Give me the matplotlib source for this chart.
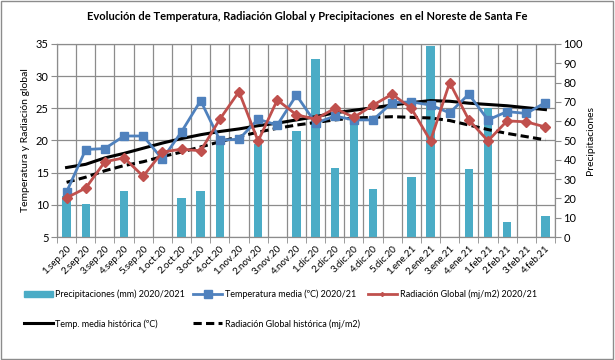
import matplotlib
matplotlib.use("Agg")
import matplotlib.pyplot as plt
import numpy as np
from matplotlib.patches import Rectangle
from matplotlib.lines import Line2D

plt.rcParams['font.family'] = ['Lato', 'DejaVu Sans']

categories = ['1.sep.20', '2.sep.20', '3.sep.20', '4.sep.20', '5.sep.20',
              '1.oct.20', '2.oct.20', '3.oct.20', '4.oct.20',
              '1.nov.20', '2.nov.20', '3.nov.20', '4.nov.20',
              '1.dic.20', '2.dic.20', '3.dic.20', '4.dic.20', '5.dic.20',
              '1.ene.21', '2.ene.21', '3.ene.21', '4.ene.21',
              '1.feb.21', '2.feb.21', '3.feb.21', '4.feb.21']

precip = [21, 17, 0, 24, 0, 0, 20, 24, 50, 0, 48, 0, 55,
          92, 36, 60, 25, 0, 31, 99, 0, 35, 67, 8, 0, 11]

temp_media = [12.0, 18.6, 18.75, 20.7, 20.7, 17.1, 21.35, 26.2, 20.05,
              20.2, 23.3, 22.4, 27.05, 22.7, 23.8, 23.2, 23.2, 25.9,
              26.0, 25.5, 24.3, 27.2, 23.2, 24.5, 24.2, 25.9]

radiacion = [11.1, 12.6, 16.7, 17.3, 14.45, 18.2, 18.65, 18.4, 23.3,
             27.6, 19.9, 26.3, 24.0, 23.3, 25.0, 23.6, 25.5, 27.2,
             25.0, 19.95, 29.0, 23.2, 19.95, 23.05, 22.9, 22.1]

temp_hist = [15.8, 16.3, 17.3, 18.0, 18.8, 19.6, 20.3, 20.9, 21.4,
             21.8, 22.3, 22.7, 23.2, 23.7, 24.3, 24.7, 25.1, 25.5,
             25.9, 26.2, 26.1, 25.8, 25.6, 25.4, 25.1, 24.8]

rad_hist = [13.5, 14.3, 15.3, 16.1, 16.7, 17.5, 18.2, 19.0, 19.8,
            20.6, 21.3, 21.9, 22.4, 22.8, 23.2, 23.5, 23.6, 23.7,
            23.6, 23.5, 23.1, 22.4, 21.7, 21.1, 20.6, 20.1]

left_ticks = [5, 10, 15, 20, 25, 30, 35]
right_ticks = [0, 10, 20, 30, 40, 50, 60, 70, 80, 90, 100]

C_BAR = '#4BACC6'
C_BLUE = '#4F81BD'
C_RED = '#C0504D'
GRID = '#8C8C8C'

fig = plt.figure(figsize=(6.15, 3.6), dpi=100)
fig.patches.append(Rectangle((0.002, 0.003), 0.995, 0.994, transform=fig.transFigure,
                             fill=False, edgecolor='#8C8C8C', linewidth=1.0))

pos = [57/615, 1-237/360, (555-57)/615, (237-44)/360]
ax = fig.add_axes(pos)
x = np.arange(len(categories))

# base axis: grid + left scale
ax.set_xlim(-0.5, len(categories)-0.5)
ax.set_ylim(5, 35)
ax.set_yticks(left_ticks)
ax.set_xticks(x)
ax.set_xticklabels(categories, rotation=45, ha='right', rotation_mode='anchor', fontsize=7)
ax.set_xticks(np.arange(-0.5, len(categories), 1), minor=True)
ax.tick_params(axis='x', which='major', length=0, pad=5)
ax.tick_params(axis='x', which='minor', length=4, color=GRID)
ax.tick_params(axis='y', length=4, color=GRID, labelsize=8, pad=2)
ax.grid(True, which='minor', axis='x', color=GRID, linewidth=0.9)
ax.grid(True, which='major', axis='y', color=GRID, linewidth=0.9)
for s in ax.spines.values():
    s.set_color(GRID)
ax.set_ylabel('Temperatura y Radiación global', fontsize=7.5, labelpad=4)

# bars on secondary scale
ax2 = ax.twinx()
ax2.bar(x, precip, width=0.44, color=C_BAR, zorder=2)
ax2.set_ylim(0, 100)
ax2.set_yticks(right_ticks)
ax2.tick_params(axis='y', length=4, color=GRID, labelsize=8, pad=2)
ax2.patch.set_visible(False)
for s in ax2.spines.values():
    s.set_color(GRID)
ax2.set_ylabel('Precipitaciones', fontsize=7.5, labelpad=2)

# lines on top
ax3 = ax.twinx()
ax3.set_ylim(5, 35)
ax3.patch.set_visible(False)
ax3.set_yticks([])
for s in ax3.spines.values():
    s.set_visible(False)

ax3.plot(x, temp_hist, color='black', linewidth=2.2, zorder=3)
ax3.plot(x, rad_hist, color='black', linewidth=2.2, linestyle=(0, (2.7, 1.4)), zorder=3)
ax3.plot(x, temp_media, color=C_BLUE, linewidth=2.0, marker='s', markersize=5.5, zorder=4)
ax3.plot(x, radiacion, color=C_RED, linewidth=2.0, marker='D', markersize=5, zorder=5)

fig.text(0.5, 1-17/360, 'Evolución de Temperatura, Radiación Global y Precipitaciones  en el Noreste de Santa Fe',
         ha='center', va='center', fontsize=8, fontweight='bold')

handles = [
    Rectangle((0, 0), 1, 1, color=C_BAR),
    Line2D([], [], color='black', linewidth=2.2),
    Line2D([], [], color=C_BLUE, linewidth=2.0, marker='s', markersize=5.5),
    Line2D([], [], color='black', linewidth=2.2, linestyle=(0, (2.7, 1.4))),
    Line2D([], [], color=C_RED, linewidth=2.0, marker='D', markersize=2),
]
labels = ['Precipitaciones (mm) 2020/2021', 'Temp. media histórica (ºC)',
          'Temperatura media (ºC) 2020/21', 'Radiación Global histórica (mj/m2)',
          'Radiación Global (mj/m2) 2020/21']
fig.legend(handles, labels, ncol=3, loc='upper left', bbox_to_anchor=(20/615, 1-286/360),
           frameon=False, fontsize=6.5, handlelength=3.2, handleheight=0.7, handletextpad=0.3,
           columnspacing=0.9, labelspacing=2.2, numpoints=1, borderaxespad=0)

fig.savefig('out.png', dpi=100)
